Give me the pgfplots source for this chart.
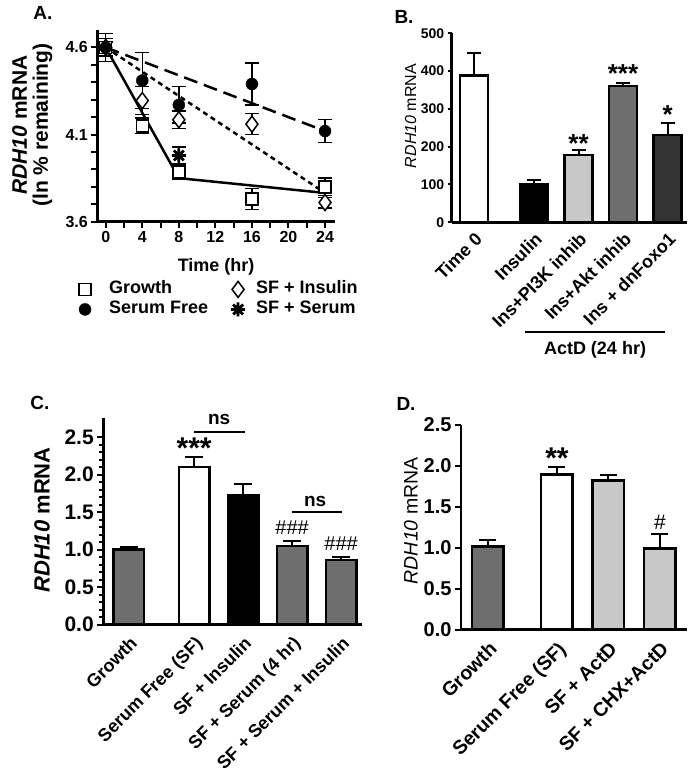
\documentclass[border=0pt]{standalone}
\usepackage{fontspec}
\setmainfont{Liberation Sans}
\usepackage{pgfplots}
\pgfplotsset{compat=1.18}

\definecolor{lgray}{HTML}{C8C8C8}
\definecolor{mgray}{HTML}{6E6E6E}
\definecolor{dgray}{HTML}{333333}

\newcommand{\fs}[1]{\fontsize{#1}{#1}\selectfont\bfseries}

% eight-armed asterisk for the SF + Serum point
\pgfdeclareplotmark{star8}{%
  \pgfpathmoveto{\pgfqpoint{0pt}{\pgfplotmarksize}}\pgfpathlineto{\pgfqpoint{0pt}{-\pgfplotmarksize}}%
  \pgfpathmoveto{\pgfqpoint{\pgfplotmarksize}{0pt}}\pgfpathlineto{\pgfqpoint{-\pgfplotmarksize}{0pt}}%
  \pgfpathmoveto{\pgfqpoint{.707\pgfplotmarksize}{.707\pgfplotmarksize}}\pgfpathlineto{\pgfqpoint{-.707\pgfplotmarksize}{-.707\pgfplotmarksize}}%
  \pgfpathmoveto{\pgfqpoint{.707\pgfplotmarksize}{-.707\pgfplotmarksize}}\pgfpathlineto{\pgfqpoint{-.707\pgfplotmarksize}{.707\pgfplotmarksize}}%
  \pgfusepathqstroke}

\pgfplotsset{
  panel/.style={
    scale only axis, clip=false,
    axis x line*=bottom, axis y line*=left, tick pos=left,
    axis line style={line width=2.5pt},
    tick style={line width=2pt, black},
    tick align=outside, major tick length=6pt, minor tick length=6pt,
    /pgf/number format/assume math mode=true,
    tick label style={font=\fs{16}},
  },
  barplot/.style={
    ybar, bar shift=0pt, draw=black, line width=2.5pt,
    /pgfplots/error bars/y dir=plus,
    /pgfplots/error bars/y explicit,
    /pgfplots/error bars/error bar style={line width=2pt, solid, black},
    /pgfplots/error bars/error mark options={rotate=90, mark size=#1, line width=2pt, black},
  },
  barplot/.default=7pt,
  pts/.style={
    only marks, black,
    legend image code/.code={\path[draw=none, fill=none] (-7pt,-6pt) rectangle (7pt,6pt); \draw[##1] plot coordinates {(0pt,0pt)};},
    /pgfplots/error bars/y dir=both,
    /pgfplots/error bars/y explicit,
    /pgfplots/error bars/error bar style={line width=1.5pt, solid, black},
    /pgfplots/error bars/error mark options={rotate=90, mark size=7pt, line width=1.5pt, black},
  },
}

\begin{document}
\begin{tikzpicture}[font=\bfseries]
\path[use as bounding box] (0,0) rectangle (693pt,780pt);

\node[font=\fs{19}] at (43pt,767pt) {A.};
\node[font=\fs{19}] at (404pt,763pt) {B.};
\node[font=\fs{19}] at (40pt,377pt) {C.};
\node[font=\fs{19}] at (406pt,376pt) {D.};

% ---------- A ----------
\begin{axis}[panel,
  at={(97.3pt,558.3pt)}, anchor=south west,
  width=237.7pt, height=191.7pt,
  xmin=-0.92, xmax=25.09, ymin=3.6, ymax=4.7,
  xtick={0,4,8,12,16,20,24}, minor x tick num=1,
  ytick={3.6,4.1,4.6}, minor y tick num=4,
  yticklabel style={/pgf/number format/.cd, fixed, fixed zerofill, precision=1},
  xlabel={Time (hr)},
  xlabel style={font=\fs{18}, at={(axis description cs:0.5,-0.235)}, anchor=center},
  ylabel={\textit{RDH10} mRNA\\(ln \% remaining)},
  ylabel style={font=\fs{21}, align=center, at={(axis description cs:-0.274,0.504)}, anchor=center},
  legend columns=2, legend cell align=left,
  legend style={draw=none, fill=none, at={(-0.081,-0.309)}, anchor=north west,
    font=\fs{18}, inner sep=0pt, outer sep=0pt, row sep=3pt,
    nodes={inner sep=0pt, text height=13pt, text depth=4pt},
    /tikz/column 1/.style={column sep=17pt},
    /tikz/column 2/.style={column sep=23pt},
    /tikz/column 3/.style={column sep=11pt}},
]
\addplot[black, line width=2.5pt, forget plot] coordinates {(0,4.6) (8,3.85) (24,3.765)};
\addplot[black, line width=2.5pt, dash pattern=on 14pt off 7pt, forget plot] coordinates {(0,4.6) (24,4.12)};
\addplot[black, line width=2.5pt, dash pattern=on 5pt off 4pt, forget plot] coordinates {(0,4.6) (24,3.765)};

\addplot[pts, mark=square*, mark size=6pt, mark options={fill=white, line width=1.5pt}]
  coordinates {(0,4.6) +- (0,0.08) (4,4.15) +- (0,0.045) (8,3.885) +- (0,0.04) (16,3.73) +- (0,0.06) (24,3.80) +- (0,0.05)};
\addlegendentry{Growth}
\addplot[pts, mark=diamond*, mark size=8pt, mark options={fill=white, line width=1.5pt}]
  coordinates {(0,4.6) +- (0,0.03) (4,4.295) +- (0,0.08) (8,4.185) +- (0,0.05) (16,4.16) +- (0,0.06) (24,3.71) +- (0,0.03)};
\addlegendentry{SF + Insulin}
\addplot[pts, mark=*, mark size=6pt, mark options={fill=black}]
  coordinates {(0,4.6) +- (0,0.05) (4,4.41) +- (0,0.16) (8,4.27) +- (0,0.105) (16,4.39) +- (0,0.12) (24,4.12) +- (0,0.065)};
\addlegendentry{Serum Free}
\addplot[pts, mark=star8, mark size=7pt, mark options={line width=2.8pt}]
  coordinates {(8,3.98) +- (0,0.05)};
\addlegendentry{SF + Serum}
\end{axis}

% ---------- B ----------
\begin{axis}[panel,
  at={(451.7pt,557.7pt)}, anchor=south west,
  width=235pt, height=189pt,
  xmin=-0.5, xmax=4.78, ymin=0, ymax=500,
  major tick length=4pt,
  ytick={0,100,200,300,400,500},
  yticklabel style={font=\fs{14}},
  xtick={0,1.35,2.35,3.35,4.35},
  xticklabels={Time 0,Insulin,Ins+PI3K inhib,Ins+Akt inhib,Ins + dnFoxo1},
  xtick style={draw=none},
  xticklabel style={rotate=45, anchor=north east, font=\fs{18}},
  ylabel={\textit{RDH10} mRNA},
  ylabel style={font=\fontsize{16}{16}\selectfont\mdseries, at={(axis description cs:-0.175,0.562)}, anchor=center},
  bar width=28pt,
]
\addplot[barplot, fill=white] coordinates {(0,388) +- (0,60)};
\addplot[barplot, fill=black] coordinates {(1.35,100) +- (0,12)};
\addplot[barplot, fill=lgray] coordinates {(2.35,178) +- (0,13)};
\addplot[barplot, fill=mgray] coordinates {(3.35,360) +- (0,9)};
\addplot[barplot, fill=dgray] coordinates {(4.35,231) +- (0,33)};
\node[font=\fs{26}, anchor=base] at (axis cs:2.35,185) {**};
\node[font=\fs{26}, anchor=base] at (axis cs:3.35,370) {***};
\node[font=\fs{26}, anchor=base] at (axis cs:4.35,262) {*};
\draw[line width=2pt] (axis cs:1.146,-289) -- (axis cs:4.29,-289);
\node[font=\fs{18}] at (axis cs:2.72,-338) {ActD (24 hr)};
\end{axis}

% ---------- C ----------
\begin{axis}[panel,
  at={(103.3pt,155.5pt)}, anchor=south west,
  width=258.7pt, height=206.2pt,
  xmin=-0.524, xmax=4.755, ymin=0, ymax=2.75,
  ytick={0,0.5,1,1.5,2,2.5}, minor y tick num=4, minor tick length=4pt,
  yticklabel style={font=\fs{21}, /pgf/number format/.cd, fixed, fixed zerofill, precision=1},
  xtick={0,1.33,2.33,3.33,4.33},
  xticklabels={Growth,Serum Free (SF),SF + Insulin,SF + Serum (4 hr),SF + Serum + Insulin},
  xtick style={draw=none},
  xticklabel style={rotate=45, anchor=north east, font=\fs{18}},
  ylabel={\textit{RDH10} mRNA},
  ylabel style={font=\fs{22}, at={(axis description cs:-0.237,0.507)}, anchor=center},
  bar width=30.5pt,
]
\addplot[barplot=9pt, fill=mgray] coordinates {(0,1.0) +- (0,0.04)};
\addplot[barplot=9pt, fill=white] coordinates {(1.33,2.10) +- (0,0.13)};
\addplot[barplot=9pt, fill=black] coordinates {(2.33,1.72) +- (0,0.15)};
\addplot[barplot=9pt, fill=mgray] coordinates {(3.33,1.05) +- (0,0.06)};
\addplot[barplot=9pt, fill=mgray] coordinates {(4.33,0.86) +- (0,0.035)};
\node[font=\fs{30}, anchor=base] at (axis cs:1.33,2.21) {***};
\draw[line width=2pt] (axis cs:1.33,2.564) -- (axis cs:2.37,2.564);
\node[font=\fs{19}, anchor=base] at (axis cs:1.84,2.667) {ns};
\draw[line width=2pt] (axis cs:3.32,1.495) -- (axis cs:4.34,1.495);
\node[font=\fs{19}, anchor=base] at (axis cs:3.8,1.578) {ns};
\node[font=\fontsize{20}{20}\selectfont\mdseries, anchor=base] at (axis cs:3.33,1.206) {\#\#\#};
\node[font=\fontsize{20}{20}\selectfont\mdseries, anchor=base] at (axis cs:4.33,0.983) {\#\#\#};
\end{axis}

% ---------- D ----------
\begin{axis}[panel,
  at={(461pt,150.5pt)}, anchor=south west,
  width=225.7pt, height=205pt,
  xmin=-0.524, xmax=3.859, ymin=0, ymax=2.5,
  ytick={0,0.5,1,1.5,2,2.5},
  yticklabel style={font=\fs{20}, /pgf/number format/.cd, fixed, fixed zerofill, precision=1},
  xtick={0,1.34,2.34,3.34},
  xticklabels={Growth,Serum Free (SF),SF + ActD,SF + CHX+ActD},
  xtick style={draw=none},
  xticklabel style={rotate=45, anchor=north east, font=\fs{19.5}},
  ylabel={\textit{RDH10} mRNA},
  ylabel style={font=\fontsize{19.5}{19.5}\selectfont\mdseries, at={(axis description cs:-0.222,0.53)}, anchor=center},
  bar width=31.5pt,
]
\addplot[barplot=8.5pt, fill=mgray] coordinates {(0,1.01) +- (0,0.08)};
\addplot[barplot=8.5pt, fill=white] coordinates {(1.34,1.89) +- (0,0.09)};
\addplot[barplot=8.5pt, fill=lgray] coordinates {(2.34,1.82) +- (0,0.07)};
\addplot[barplot=8.5pt, fill=lgray] coordinates {(3.34,0.99) +- (0,0.17)};
\node[font=\fs{30}, anchor=base] at (axis cs:1.34,1.96) {**};
\node[font=\fontsize{21}{21}\selectfont\mdseries, anchor=base] at (axis cs:3.34,1.225) {\#};
\end{axis}
\end{tikzpicture}
\end{document}
